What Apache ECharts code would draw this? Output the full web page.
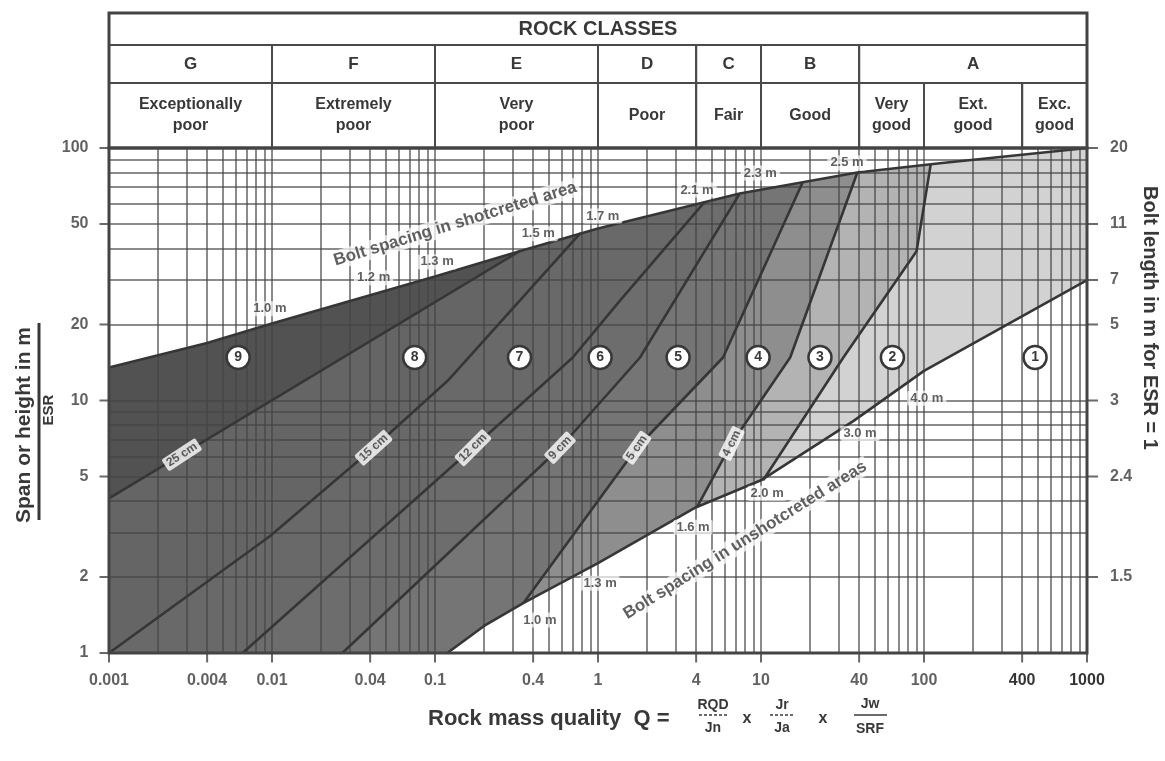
<!DOCTYPE html>
<html>
<head>
<meta charset="utf-8">
<title>Rock support chart (Q-system)</title>
<script src="https://cdn.jsdelivr.net/npm/echarts/dist/echarts.min.js"></script>
<style>
html, body { margin: 0; padding: 0; background: #fff; }
#chart { width: 1165px; height: 761px; }
</style>
</head>
<body>
<div id="chart"></div>
<script>
// axis ticks
var xTicks = [0.001, 0.004, 0.01, 0.04, 0.1, 0.4, 1, 4, 10, 40, 100, 400, 1000];
var yTicks = [1, 2, 5, 10, 20, 50, 100];
var boltLengthTicks = [[100, '20'], [50, '11'], [30, '7'], [20, '5'], [10, '3'], [5, '2.4'], [2, '1.5']];

// header table: [Q from, Q to, text]
var rockClassTitle = [[0.001, 1000, 'ROCK CLASSES']];
var classLetters = [[0.001, 0.01, 'G'], [0.01, 0.1, 'F'], [0.1, 1, 'E'], [1, 4, 'D'], [4, 10, 'C'], [10, 40, 'B'], [40, 1000, 'A']];
var classNames = [[0.001, 0.01, 'Exceptionally\npoor'], [0.01, 0.1, 'Extremely\npoor'], [0.1, 1, 'Very\npoor'],
	[1, 4, 'Poor'], [4, 10, 'Fair'], [10, 40, 'Good'], [40, 100, 'Very\ngood'], [100, 400, 'Ext.\ngood'], [400, 1000, 'Exc.\ngood']];

// boundaries [Q, span/ESR]
var upperBoundary = [[0.001, 13.5], [0.004, 16.9], [0.01, 20.2], [0.1, 31], [0.33, 39], [1, 48], [7.4, 66], [39, 80], [125, 87], [1000, 100]];
var lowerBoundary = [[0.119, 1], [0.2, 1.28], [0.35, 1.58], [1, 2.27], [4, 3.78], [10, 4.83], [37, 8.3], [100, 13.1], [1000, 30]];

// category boundary lines
var line25cm = [[0.001, 4.1], [0.33, 39]];
var line15cm = [[0.001, 1], [0.0097, 2.9], [0.042, 6.5], [0.12, 12], [0.78, 46]];
var line12cm = [[0.0066, 1], [0.171, 6.5], [0.7, 14.8], [1.36, 24.8], [4.5, 61]];
var line9cm = [[0.027, 1], [0.585, 6.5], [1.81, 14.8], [7.4, 66]];
var line5cm = [[0.35, 1.58], [1.73, 6.5], [5.85, 14.8], [18, 73]];
var line4cm = [[4.05, 3.78], [6.6, 6.76], [15.1, 14.8], [39, 80]];
var line3to2 = [[10.3, 4.83], [32, 14.8], [90, 39], [110, 86.3]];

// annotations
var regionNumbers = [[0.0062, 14.8, '9'], [0.075, 14.8, '8'], [0.33, 14.8, '7'], [1.03, 14.8, '6'], [3.1, 14.8, '5'],
	[9.6, 14.8, '4'], [23, 14.8, '3'], [64, 14.8, '2'], [480, 14.8, '1']];
var thicknessLabels = [[0.0028, 6.1, '25 cm'], [0.042, 6.5, '15 cm'], [0.171, 6.5, '12 cm'], [0.585, 6.5, '9 cm'], [1.73, 6.5, '5 cm'], [6.6, 6.76, '4 cm']];
var shotcretedSpacing = [[0.0097, 23.1, '1.0 m'], [0.042, 30.6, '1.2 m'], [0.103, 35.4, '1.3 m'], [0.43, 45.7, '1.5 m'],
	[1.07, 53.8, '1.7 m'], [4.05, 68.2, '2.1 m'], [9.9, 79.6, '2.3 m'], [33.7, 87.3, '2.5 m']];
var unshotcretedSpacing = [[0.44, 1.35, '1.0 m'], [1.03, 1.89, '1.3 m'], [3.83, 3.15, '1.6 m'], [10.9, 4.29, '2.0 m'], [40.5, 7.4, '3.0 m'], [104, 10.2, '4.0 m']];
var curveTitles = [[0.133, 50, 'Bolt spacing in shotcreted area'], [8.0, 2.8, 'Bolt spacing in unshotcreted areas']];

var FONT = '"Liberation Sans", Arial, sans-serif';
var INK = '#383838';
var thicknessAngles = [33, 42, 45, 46, 55, 64];
var curveTitleAngles = [17, 32];
var rowEdges = [0, 32, 70, 135];

function withUpper(pts) {
	var last = pts[pts.length - 1][0];
	return pts.concat(upperBoundary.filter(function(p) {
		return p[0] > last;
	}));
}

// 1..9 x 10^k grid values
function logGrid(from, to) {
	var out = [];
	for (var k = from; k < to; k++) {
		for (var m = 1; m < 10; m++) {
			out.push(Number((m * Math.pow(10, k)).toPrecision(3)));
		}
	}
	return out;
}

var headerCells = [];
rockClassTitle.forEach(function(c) { headerCells.push([c[0], c[1], 0, c[2]]); });
classLetters.forEach(function(c) { headerCells.push([c[0], c[1], 1, c[2]]); });
classNames.forEach(function(c) { headerCells.push([c[0], c[1], 2, c[2]]); });

var fills = [
	[upperBoundary, '#525252'],
	[withUpper(line25cm), '#656565'],
	[withUpper(line15cm), '#696969'],
	[withUpper(line12cm), '#6d6d6d'],
	[withUpper(line9cm), '#757575'],
	[withUpper(line5cm), '#8e8e8e'],
	[withUpper(line4cm), '#b3b3b3'],
	[withUpper(line3to2), '#d2d2d2'],
	[lowerBoundary, '#ffffff']
];

var series = [];

fills.forEach(function(f, i) {
	series.push({
		type: 'line', data: f[0], symbol: 'none', silent: true, z: 1 + i,
		lineStyle: { width: 0 },
		areaStyle: { color: f[1], opacity: 1, origin: 'start' }
	});
});

// background grid
var gridLines = logGrid(-3, 3).map(function(v) {
	return { coords: [[v, 1], [v, 100]] };
}).concat(logGrid(0, 2).map(function(v) {
	return { coords: [[0.001, v], [1000, v]] };
}));
series.push({
	type: 'lines', coordinateSystem: 'cartesian2d', xAxisIndex: 0, yAxisIndex: 0,
	silent: true, z: 12, polyline: false, effect: { show: false },
	lineStyle: { color: '#444444', opacity: 0.62, width: 2, curveness: 0 },
	data: gridLines
});

[upperBoundary, lowerBoundary, line25cm, line15cm, line12cm, line9cm, line5cm, line4cm, line3to2].forEach(function(l) {
	series.push({
		type: 'line', data: l, symbol: 'none', silent: true, z: 14,
		lineStyle: { color: '#363636', width: 2.6 }
	});
});

// circles with support category numbers
series.push({
	type: 'scatter', z: 20, silent: true,
	data: regionNumbers.map(function(d) { return [d[0], d[1]]; }),
	symbol: 'circle', symbolSize: 23,
	itemStyle: { color: '#fff', borderColor: '#383838', borderWidth: 2.5, opacity: 1 },
	label: {
		show: true, position: 'inside', color: INK, fontFamily: FONT, fontWeight: 'bold', fontSize: 14,
		formatter: function(p) { return regionNumbers[p.dataIndex][2]; }
	}
});

function textSeries(arr, size, angles, bg) {
	return {
		type: 'scatter', z: 22, silent: true, symbolSize: 1, clip: false,
		itemStyle: { color: 'transparent' },
		data: arr.map(function(d, i) {
			return { value: [d[0], d[1]], label: { rotate: angles ? angles[i] : 0 } };
		}),
		label: {
			show: true, position: 'inside', color: INK, fontFamily: FONT, fontWeight: 'bold', fontSize: size,
			backgroundColor: bg, padding: [1, 3], borderRadius: 2,
			formatter: function(p) { return arr[p.dataIndex][2]; }
		}
	};
}
series.push(textSeries(thicknessLabels, 12, thicknessAngles, '#fff'));
series.push(textSeries(shotcretedSpacing, 13, null, 'rgba(255,255,255,0.85)'));
series.push(textSeries(unshotcretedSpacing, 13, null, 'rgba(255,255,255,0.85)'));
series.push(textSeries(curveTitles, 17, curveTitleAngles, 'rgba(255,255,255,0.9)'));

// tick marks + labels
series.push({
	type: 'scatter', z: 25, silent: true, clip: false,
	data: xTicks.map(function(v) {
		return { value: [v, 1], label: { color: v >= 400 ? '#000' : '#3a3a3a' } };
	}),
	symbol: 'rect', symbolSize: [2, 9], symbolOffset: [0, 5],
	itemStyle: { color: '#444' },
	label: {
		show: true, position: 'bottom', distance: 10, fontFamily: FONT, fontWeight: 'bold', fontSize: 16,
		formatter: function(p) { return String(xTicks[p.dataIndex]); }
	}
});
series.push({
	type: 'scatter', z: 25, silent: true, clip: false,
	data: yTicks.map(function(v) { return [0.001, v]; }),
	symbol: 'rect', symbolSize: [9, 2], symbolOffset: [-5, 0],
	itemStyle: { color: '#444' },
	label: {
		show: true, position: 'left', distance: 11, color: '#3a3a3a', fontFamily: FONT, fontWeight: 'bold', fontSize: 16,
		formatter: function(p) { return String(yTicks[p.dataIndex]); }
	}
});
series.push({
	type: 'scatter', z: 25, silent: true, clip: false,
	data: boltLengthTicks.map(function(t) { return [1000, t[0]]; }),
	symbol: 'rect', symbolSize: [10, 2], symbolOffset: [6, 0],
	itemStyle: { color: '#444' },
	label: {
		show: true, position: 'right', distance: 12, color: '#3a3a3a', fontFamily: FONT, fontWeight: 'bold', fontSize: 16,
		formatter: function(p) { return boltLengthTicks[p.dataIndex][1]; }
	}
});

// header table
series.push({
	type: 'custom', xAxisIndex: 1, yAxisIndex: 1, z: 5, silent: true,
	data: headerCells.map(function(c) { return [c[0], c[1], c[2]]; }),
	renderItem: function(params, api) {
		var cell = headerCells[params.dataIndex];
		var row = cell[2];
		var p0 = api.coord([cell[0], rowEdges[row]]);
		var p1 = api.coord([cell[1], rowEdges[row + 1]]);
		var sizes = [20, 17, 16];
		return {
			type: 'group',
			children: [{
				type: 'rect',
				shape: { x: p0[0], y: p0[1], width: p1[0] - p0[0], height: p1[1] - p0[1] },
				style: { fill: 'none', stroke: '#4a4a4a', lineWidth: 2 }
			}, {
				type: 'text',
				style: {
					text: cell[3], x: (p0[0] + p1[0]) / 2, y: (p0[1] + p1[1]) / 2,
					align: 'center', verticalAlign: 'middle', textAlign: 'center', textVerticalAlign: 'middle',
					fontSize: sizes[row], fontWeight: 'bold', fontFamily: FONT, lineHeight: 21, fill: INK
				}
			}]
		};
	}
});

function txt(x, y, text, size, rot, align) {
	return {
		type: 'text', x: x, y: y, rotation: rot || 0, z: 50,
		style: {
			text: text, font: 'bold ' + size + 'px ' + FONT, fill: INK,
			align: align || 'center', verticalAlign: 'middle', textAlign: align || 'center', textVerticalAlign: 'middle'
		}
	};
}
function bar(x1, y1, x2, y2, w, dash) {
	return {
		type: 'line', z: 50, shape: { x1: x1, y1: y1, x2: x2, y2: y2 },
		style: { stroke: INK, lineWidth: w, lineDash: dash || null }
	};
}

var elm = document.getElementById('chart');
echarts.init(elm).setOption({
	animation: false,
	backgroundColor: '#fff',
	grid: [{
		left: 109, right: 78, top: 148, height: 505, show: true, z: 30,
		backgroundColor: 'transparent', borderColor: '#444444', borderWidth: 3
	}, {
		left: 109, right: 78, top: 13, height: 135, show: true, z: 30,
		backgroundColor: 'transparent', borderColor: '#444444', borderWidth: 3
	}],
	xAxis: [
		{ type: 'log', logBase: 10, min: 0.001, max: 1000, gridIndex: 0, show: false },
		{ type: 'log', logBase: 10, min: 0.001, max: 1000, gridIndex: 1, show: false }
	],
	yAxis: [
		{ type: 'log', logBase: 10, min: 1, max: 100, gridIndex: 0, show: false },
		{ type: 'value', min: 0, max: 135, inverse: true, gridIndex: 1, show: false }
	],
	graphic: [
		txt(24, 425, 'Span or height in m', 21, Math.PI / 2),
		bar(39, 323, 39, 520, 3),
		txt(49, 410, 'ESR', 15, Math.PI / 2),
		txt(1150, 318, 'Bolt length in m for ESR = 1', 20, -Math.PI / 2),
		txt(428, 719, 'Rock mass quality  Q =', 22, 0, 'left'),
		txt(713, 705, 'RQD', 14),
		bar(699, 715, 728, 715, 1.5, [3, 2]),
		txt(713, 728, 'Jn', 14),
		txt(747, 719, 'x', 16),
		txt(782, 705, 'Jr', 14),
		bar(770, 715, 795, 715, 1.5, [3, 2]),
		txt(782, 728, 'Ja', 14),
		txt(823, 719, 'x', 16),
		txt(870, 704, 'Jw', 14),
		bar(854, 715, 887, 715, 1.5),
		txt(870, 729, 'SRF', 14)
	],
	series: series
});
</script>
</body>
</html>
